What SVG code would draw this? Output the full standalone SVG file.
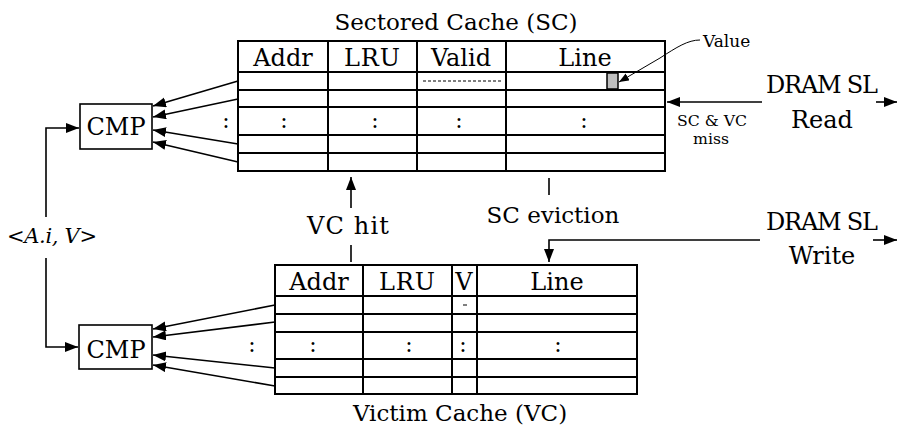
<svg xmlns="http://www.w3.org/2000/svg" width="898" height="432" viewBox="0 0 898 432">
<defs>
<marker id="ah" markerUnits="userSpaceOnUse" markerWidth="14" markerHeight="11" refX="13" refY="5" orient="auto"><path d="M0,0 L13,5 L0,10 z" fill="#000"/></marker>
<marker id="ahs" markerUnits="userSpaceOnUse" markerWidth="11" markerHeight="9" refX="10" refY="4" orient="auto"><path d="M0,0 L10,4 L0,8 z" fill="#000"/></marker>
<style>
text{font-family:"DejaVu Serif","Liberation Serif",serif;fill:#000}
.t{fill:#fff;stroke:#000;stroke-width:2}
.g{stroke:#000;stroke-width:2;fill:none}
.c{stroke:#000;stroke-width:1.6;fill:none}
.h{font-size:24px;text-anchor:middle}
.ti{font-size:23px;text-anchor:middle}
.d{font-size:22px;text-anchor:middle}
</style>
</defs>
<rect width="898" height="432" fill="#fff"/>

<g id="sc">
<text x="456" y="30" class="ti">Sectored Cache (SC)</text>
<rect x="238" y="41" width="427" height="130" class="t"/>
<path class="g" d="M238,72H665M238,90H665M238,107H665M238,135H665M238,153H665M328,41V171M417,41V171M506,41V171"/>
<text x="283" y="66" class="h">Addr</text>
<text x="372" y="66" class="h" textLength="56">LRU</text>
<text x="461" y="66" class="h">Valid</text>
<text x="585" y="66" class="h">Line</text>
<path d="M423,81H502" stroke="#000" stroke-width="1" stroke-dasharray="3,2"/>
<rect x="607" y="73" width="11" height="16" fill="#bfbfbf" stroke="#000" stroke-width="1.5"/>
<text x="284" y="128" class="d">:</text>
<text x="375" y="128" class="d">:</text>
<text x="459" y="128" class="d">:</text>
<text x="584" y="128" class="d">:</text>
<text x="226" y="128" class="d">:</text>
</g>

<g id="vc">
<rect x="275" y="265" width="362" height="129" class="t"/>
<path class="g" d="M275,296H637M275,314H637M275,332H637M275,359H637M275,377H637M363,265V394M452,265V394M477,265V394"/>
<text x="319" y="290" class="h">Addr</text>
<text x="407" y="290" class="h" textLength="56">LRU</text>
<text x="464" y="290" class="h">V</text>
<text x="557" y="290" class="h">Line</text>
<path d="M463,305H467" stroke="#000" stroke-width="1"/>
<text x="313" y="352" class="d">:</text>
<text x="409" y="352" class="d">:</text>
<text x="463" y="352" class="d">:</text>
<text x="558" y="352" class="d">:</text>
<text x="252" y="352" class="d">:</text>
<text x="460" y="421" class="ti">Victim Cache (VC)</text>
</g>

<g id="cmp1">
<rect x="80" y="104" width="72" height="45" fill="#fff" stroke="#000" stroke-width="1.6"/>
<text x="116" y="135" class="h">CMP</text>
</g>
<g id="cmp2">
<rect x="79" y="325" width="73" height="44" fill="#fff" stroke="#000" stroke-width="1.6"/>
<text x="116" y="358" class="h">CMP</text>
</g>

<g id="labels">
<text x="703" y="47" font-size="17">Value</text>
<text x="52" y="243" font-size="21" font-style="italic" text-anchor="middle" textLength="90">&lt;A.i, V&gt;</text>
<text x="348" y="234" font-size="24" text-anchor="middle" textLength="82">VC hit</text>
<text x="553" y="223" font-size="23" text-anchor="middle">SC eviction</text>
<text x="822" y="93" font-size="24" text-anchor="middle" textLength="112">DRAM SL</text>
<text x="822" y="128" font-size="24" text-anchor="middle">Read</text>
<text x="822" y="230" font-size="24" text-anchor="middle" textLength="112">DRAM SL</text>
<text x="822" y="264" font-size="24" text-anchor="middle">Write</text>
<text x="712" y="126" font-size="15" text-anchor="middle" textLength="70" lengthAdjust="spacingAndGlyphs">SC &amp; VC</text>
<text x="711" y="144" font-size="15" text-anchor="middle" textLength="36" lengthAdjust="spacingAndGlyphs">miss</text>
</g>

<g id="connectors">
<path class="c" marker-end="url(#ah)" d="M238,81L153,106"/>
<path class="c" marker-end="url(#ah)" d="M238,99L153,117"/>
<path class="c" marker-end="url(#ah)" d="M238,144L153,130"/>
<path class="c" marker-end="url(#ah)" d="M238,162L153,142"/>
<path class="c" marker-end="url(#ah)" d="M275,305L153,329"/>
<path class="c" marker-end="url(#ah)" d="M275,322L153,337"/>
<path class="c" marker-end="url(#ah)" d="M275,368L153,355"/>
<path class="c" marker-end="url(#ah)" d="M275,386L153,365"/>
<path class="c" marker-end="url(#ah)" d="M46,217V128H79"/>
<path class="c" marker-end="url(#ah)" d="M46,258V347H78"/>
<path class="c" marker-end="url(#ah)" d="M762,102H667"/>
<path class="c" marker-end="url(#ah)" d="M876,102H897"/>
<path class="c" marker-end="url(#ah)" d="M873,240H897"/>
<path class="c" d="M549,178V195"/>
<path class="c" marker-end="url(#ah)" d="M760,240H549V262"/>
<path class="c" marker-end="url(#ah)" d="M351,208V177"/>
<path class="c" d="M351,245V262"/>
<path stroke="#000" stroke-width="1" fill="none" marker-end="url(#ahs)" d="M700,40C688,40 677,47 660,58L619,82"/>
</g>
</svg>
